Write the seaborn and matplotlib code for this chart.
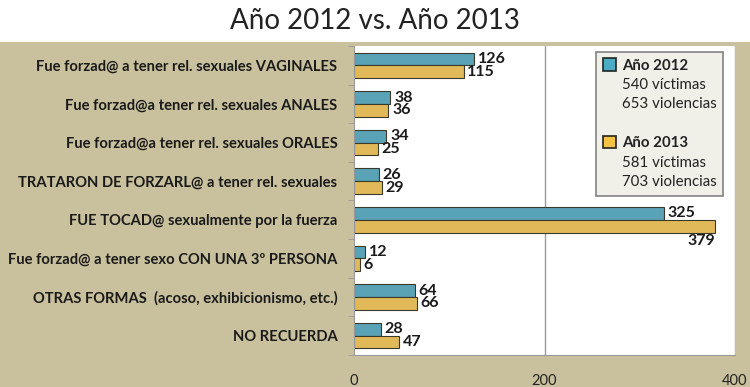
import matplotlib
matplotlib.use("Agg")
import matplotlib.pyplot as plt
from matplotlib.patches import Patch, Rectangle
import numpy as np
import pandas as pd
import seaborn as sns

categories = [
    "Fue forzad@ a tener rel. sexuales VAGINALES",
    "Fue forzad@a tener rel. sexuales ANALES",
    "Fue forzad@a tener rel. sexuales ORALES",
    "TRATARON DE FORZARL@ a tener rel. sexuales",
    "FUE TOCAD@ sexualmente por la fuerza",
    "Fue forzad@ a tener sexo CON UNA 3º PERSONA",
    "OTRAS FORMAS  (acoso, exhibicionismo, etc.)",
    "NO RECUERDA",
]
values_2012 = [126, 38, 34, 26, 325, 12, 64, 28]
values_2013 = [115, 36, 25, 29, 379, 6, 66, 47]
years = ["Año 2012", "Año 2013"]
summary = {
    "Año 2012": ["540 víctimas", "653 violencias"],
    "Año 2013": ["581 víctimas", "703 violencias"],
}
x_ticks = [0, 200, 400]

BLUE = "#4BACC6"
YELLOW = "#F7C243"
TAN = "#C9C19D"

df = pd.DataFrame({
    "categoria": categories * 2,
    "valor": values_2012 + values_2013,
    "año": [years[0]] * len(categories) + [years[1]] * len(categories),
})

sns.set_style("white")
plt.rcParams["font.family"] = ["Lato", "DejaVu Sans"]

fig = plt.figure(figsize=(7.5, 3.87), dpi=100, facecolor="white")
bg = Rectangle((0, 0), 1, 0.892, transform=fig.transFigure,
               facecolor=TAN, edgecolor="none", zorder=-10)
fig.add_artist(bg)
fig.text(0.5, 0.945, "Año 2012 vs. Año 2013", ha="center", va="center",
         fontsize=20, color="#222222")

ax = fig.add_axes([0.472, 0.083, 0.508, 0.798])
ax.set_facecolor("white")
sns.barplot(data=df, y="categoria", x="valor", hue="año", orient="h",
            palette=[BLUE, YELLOW], width=0.66, edgecolor="#3a3a2a",
            linewidth=0.8, ax=ax, legend=False)

ax.set_xlim(0, 400)
ax.set_xticks(x_ticks)
ax.set_xticklabels([str(t) for t in x_ticks], fontsize=10.5, color="#222222")
ax.set_xlabel("")
ax.set_ylabel("")
# ticks between categories, labels centred
ax.set_yticks(np.arange(len(categories) + 1) - 0.5, minor=True)
ax.tick_params(axis="y", which="major", labelsize=10.6, length=0, pad=12)
ax.tick_params(axis="y", which="minor", length=4, color="#999999", left=True)
ax.tick_params(axis="x", length=4, color="#999999", pad=10)
for lbl in ax.get_yticklabels():
    lbl.set_fontweight("bold")
    lbl.set_color("#1a1a1a")
ax.axvline(200, color="#9a9a9a", linewidth=1, zorder=0)
ax.axvline(400, color="#9a9a9a", linewidth=1, zorder=0)
for side in ["top", "right"]:
    ax.spines[side].set_visible(False)
ax.spines["left"].set_color("#999999")
ax.spines["bottom"].set_color("#999999")

# value labels
for container in ax.containers:
    for bar in container:
        w = bar.get_width()
        yc = bar.get_y() + bar.get_height() / 2
        if w + 30 > 400:
            ax.text(w, bar.get_y() + bar.get_height() + 0.04, f"{int(w)}",
                    ha="right", va="top", fontsize=11.5, fontweight="bold",
                    color="#1a1a1a")
        else:
            ax.text(w + 4, yc, f"{int(w)}", ha="left", va="center",
                    fontsize=11.5, fontweight="bold", color="#1a1a1a")

# legend
handles = []
labels = []
for year, color in zip(years, [BLUE, YELLOW]):
    if handles:
        handles.append(Patch(visible=False))
        labels.append(" ")
    handles.append(Patch(facecolor=color, edgecolor="#222222", linewidth=1.2))
    labels.append(year)
    for line in summary[year]:
        handles.append(Patch(visible=False))
        labels.append(line)
leg = ax.legend(handles, labels, loc="upper right", bbox_to_anchor=(0.969, 0.982),
                borderaxespad=0, frameon=True, fancybox=False, fontsize=10.8,
                handlelength=0.9, handleheight=0.9, handletextpad=0.35,
                labelspacing=0.33, borderpad=0.45)
leg.get_frame().set_facecolor("#EDEBE3")
leg.get_frame().set_edgecolor("#666666")
leg.get_frame().set_linewidth(1.2)
for txt in leg.get_texts():
    if txt.get_text() in years:
        txt.set_fontweight("bold")
    txt.set_color("#222222")

fig.savefig("out.png", dpi=100, facecolor=fig.get_facecolor())
